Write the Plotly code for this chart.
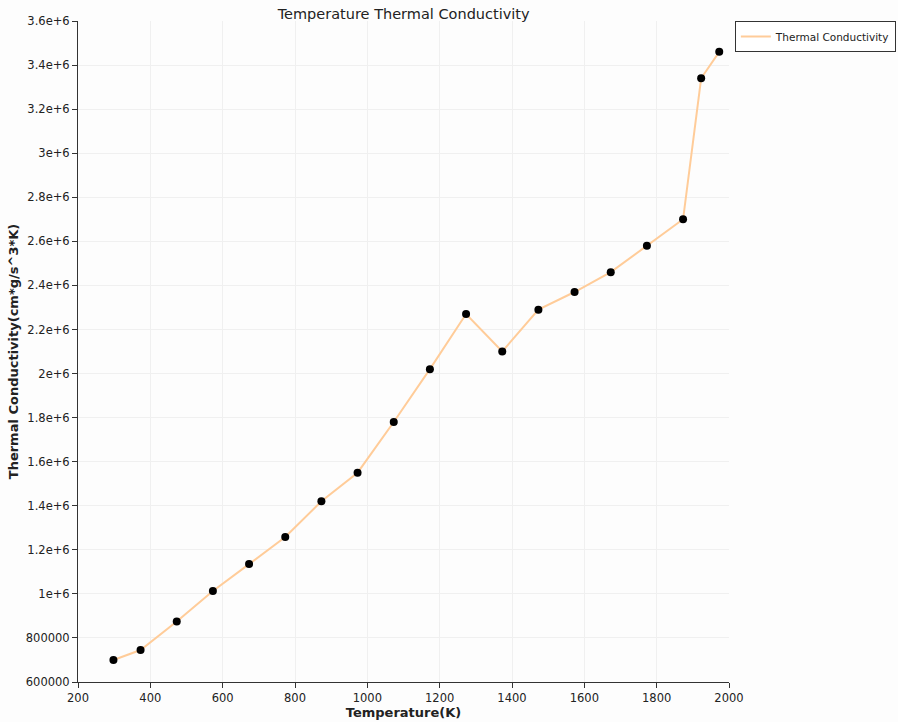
import plotly.graph_objects as go

temperature = [298, 373, 473, 573, 673, 773, 873, 973, 1073, 1173, 1273, 1373,
               1473, 1573, 1673, 1773, 1873, 1923, 1973]
conductivity = [700000, 745000, 875000, 1013000, 1135000, 1258000, 1420000, 1550000,
                1780000, 2020000, 2270000, 2100000, 2290000, 2370000, 2460000,
                2580000, 2700000, 3340000, 3460000]

y_tickvals = [600000, 800000, 1000000, 1200000, 1400000, 1600000, 1800000, 2000000,
              2200000, 2400000, 2600000, 2800000, 3000000, 3200000, 3400000, 3600000]
y_ticktext = ["600000", "800000", "1e+6", "1.2e+6", "1.4e+6", "1.6e+6", "1.8e+6", "2e+6",
              "2.2e+6", "2.4e+6", "2.6e+6", "2.8e+6", "3e+6", "3.2e+6", "3.4e+6", "3.6e+6"]
x_tickvals = [200, 400, 600, 800, 1000, 1200, 1400, 1600, 1800, 2000]

font_family = "'DejaVu Sans', sans-serif"

fig = go.Figure()
fig.add_trace(go.Scatter(
    x=temperature, y=conductivity, mode="lines",
    name="Thermal Conductivity",
    line=dict(color="#ffcc99", width=2),
))
fig.add_trace(go.Scatter(
    x=temperature, y=conductivity, mode="markers",
    name="Thermal Conductivity", showlegend=False,
    marker=dict(color="black", size=8),
))

fig.update_layout(
    width=898, height=722,
    margin=dict(l=78, r=169, t=21, b=40, autoexpand=False),
    paper_bgcolor="#fdfdfd", plot_bgcolor="#fdfdfd",
    font=dict(family=font_family, size=11.5, color="#222"),
    title=dict(text="Temperature Thermal Conductivity", x=0.4495, xanchor="center",
               y=0.981, yanchor="middle", font=dict(size=14.5, color="#222")),
    showlegend=True,
    legend=dict(x=1.009, y=1.0, xanchor="left", yanchor="top",
                bgcolor="white", bordercolor="#333", borderwidth=1,
                font=dict(size=10.5), itemwidth=30, tracegroupgap=0),
    xaxis=dict(range=[200, 2000], tickvals=x_tickvals, showline=True, linecolor="#333",
               linewidth=1, ticks="outside", ticklen=5, tickcolor="#333",
               gridcolor="#f0f0f0", zeroline=False, automargin=False,
               title=dict(text="<b>Temperature(K)</b>", font=dict(size=13), standoff=2)),
    yaxis=dict(range=[600000, 3600000], tickvals=y_tickvals, ticktext=y_ticktext,
               showline=True, linecolor="#333", linewidth=1, ticks="outside",
               ticklen=5, tickcolor="#333", gridcolor="#f0f0f0", zeroline=False,
               automargin=False,
               title=dict(text="<b>Thermal Conductivity(cm*g/s^3*K)</b>",
                          font=dict(size=13), standoff=4)),
)

fig.write_html("out.html")
